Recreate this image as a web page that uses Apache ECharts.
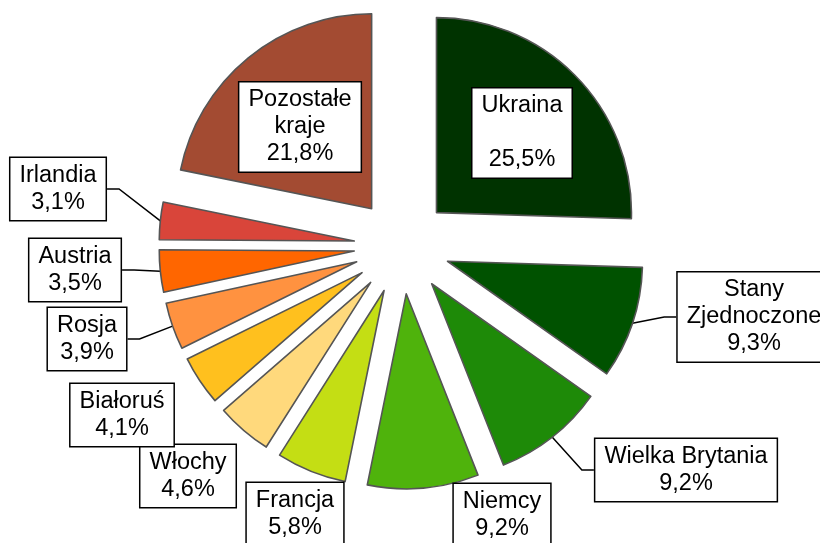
<!DOCTYPE html>
<html>
<head>
<meta charset="utf-8">
<script src="https://cdn.jsdelivr.net/npm/echarts@6/dist/echarts.min.js"></script>
<style>
  html, body { margin: 0; padding: 0; background: #fff; }
  #chart { width: 820px; height: 543px; }
</style>
</head>
<body>
<div id="chart"></div>
<script>
// udział krajów (w %)
const countries = ['Ukraina', 'Stany\nZjednoczone', 'Wielka Brytania', 'Niemcy', 'Francja', 'Włochy',
  'Białoruś', 'Rosja', 'Austria', 'Irlandia', 'Pozostałe\nkraje'];
const shares = [25.5, 9.3, 9.2, 9.2, 5.8, 4.6, 4.1, 3.9, 3.5, 3.1, 21.8];
const colors = ['#003300', '#005200', '#1e8a08', '#4fb30c', '#c4de14', '#ffd97c',
  '#ffc01e', '#ff9240', '#ff6600', '#d9453a', '#a34b32'];

// where each label box sits (center, px)
const labelPos = [
  [522, 133], [754, 317], [686, 470], [502, 515], [295, 514], [188, 476],
  [122, 415], [87, 339], [75, 270], [58, 189], [300, 127]
];
const inside = ['Ukraina', 'Pozostałe\nkraje'];
const noLine = ['Niemcy', 'Francja', 'Włochy', 'Białoruś'];

const fmt = v => v.toFixed(1).replace('.', ',') + '%';
const CENTER = [402, 246];
const R = 195, EXPLODE = 48;

const sliceData = countries.map((name, i) => ({
  name: name,
  value: shares[i],
  selected: true,
  itemStyle: { color: colors[i] }
}));

// invisible copy of the pie, only for placing the label boxes
const labelData = countries.map((name, i) => ({
  name: name,
  value: shares[i],
  labelLine: { show: !inside.includes(name) && !noLine.includes(name) }
}));

const chart = echarts.init(document.getElementById('chart'), null, { renderer: 'canvas' });
chart.setOption({
  backgroundColor: '#ffffff',
  animation: false,
  series: [{
    type: 'pie',
    center: CENTER,
    radius: R,
    startAngle: 90,
    clockwise: true,
    selectedMode: 'multiple',
    selectedOffset: EXPLODE,
    silent: true,
    emphasis: { disabled: true },
    itemStyle: { borderColor: '#555555', borderWidth: 1.6 },
    select: { itemStyle: { borderColor: '#555555', borderWidth: 1.6 } },
    label: { show: false },
    labelLine: { show: false },
    data: sliceData
  }, {
    type: 'pie',
    center: CENTER,
    radius: R + EXPLODE,
    startAngle: 90,
    clockwise: true,
    silent: true,
    avoidLabelOverlap: false,
    emphasis: { disabled: true },
    itemStyle: { color: 'rgba(0,0,0,0)', borderWidth: 0 },
    label: {
      show: true,
      position: 'outside',
      formatter: p => p.name + '\n' + (p.name === 'Ukraina' ? '\n' : '') + fmt(p.value),
      fontFamily: 'Liberation Sans, Arial, sans-serif',
      fontSize: 23.5,
      lineHeight: 27,
      color: '#000',
      backgroundColor: '#fff',
      borderColor: '#000',
      borderWidth: 1.5,
      padding: [4, 9],
      align: 'center'
    },
    labelLine: {
      lineStyle: { color: '#000', width: 1.5 },
      length: 15,
      length2: 12
    },
    labelLayout: function (params) {
      const p = labelPos[params.dataIndex];
      return { x: p[0], y: p[1], align: 'center', verticalAlign: 'middle' };
    },
    data: labelData
  }]
});
</script>
</body>
</html>
